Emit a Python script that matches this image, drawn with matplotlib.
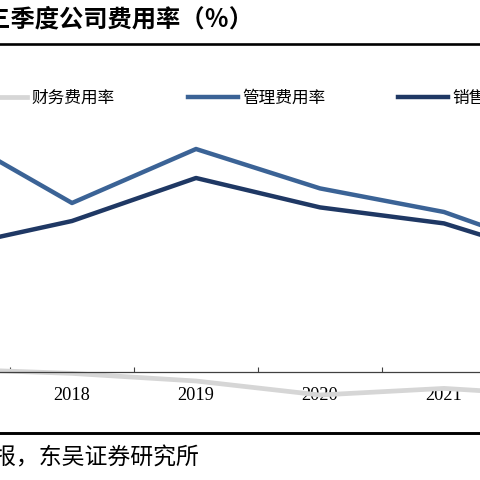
import matplotlib
matplotlib.use('Agg')
import matplotlib.pyplot as plt
from matplotlib.lines import Line2D

plt.rcParams['font.family'] = ['Noto Sans CJK SC', 'DejaVu Sans']

years = ['2017', '2018', '2019', '2020', '2021', '2022']
finance = [0.15, -0.07, -0.45, -1.15, -0.82, -1.2]
admin = [12.0, 8.45, 11.15, 9.18, 8.0, 5.8]
sales = [6.2, 7.55, 9.7, 8.23, 7.43, 5.5]
series_names = ['财务费用率', '管理费用率', '销售费用率']
title = '前三季度公司费用率（％）'
source = '数据来源：公司季报，东吴证券研究所'

W = H = 480
fig = plt.figure(figsize=(4.8, 4.8), dpi=100)


def fx(px):
    return px / W


def fy(py):
    return 1 - py / H


ax = fig.add_axes([fx(-114), fy(412), 744 / W, 300 / H])
x = list(range(len(years)))
ax.plot(x, finance, color='#D6D6D6', lw=3.4, label=series_names[0])
ax.plot(x, admin, color='#3B6396', lw=3.2, label=series_names[1])
ax.plot(x, sales, color='#1F3864', lw=3.2, label=series_names[2])

ax.set_xlim(-0.5, len(years) - 0.5)
ax.set_ylim(-2, 13)
for s in ['left', 'right', 'top']:
    ax.spines[s].set_visible(False)
ax.spines['bottom'].set_position(('data', 0))
ax.spines['bottom'].set_color('#404040')
ax.spines['bottom'].set_linewidth(0.9)
ax.set_yticks([])
ax.set_xticks([i + 0.5 for i in range(len(years) - 1)])
ax.set_xticklabels([])
ax.tick_params(axis='x', which='major', direction='in', length=3.6, width=0.8, color='#404040')
ax.set_xticks(x, minor=True)
ax.set_xticklabels(years, minor=True, fontsize=13.2, family='Liberation Serif')
ax.tick_params(axis='x', which='minor', length=0, pad=11)

fig.legend(loc='center', bbox_to_anchor=(fx(256.5), fy(98)), ncol=3, frameon=False,
           fontsize=12, handlelength=3.0, handletextpad=0.25, columnspacing=4.4)

fig.add_artist(Line2D([0, 1], [fy(44), fy(44)], color='black', lw=1.9, transform=fig.transFigure))
fig.add_artist(Line2D([0, 1], [fy(432.5), fy(432.5)], color='black', lw=2.1, transform=fig.transFigure))

fig.text(fx(-37), fy(20), title, ha='left', va='center', fontsize=17.5, fontweight='bold')
fig.text(fx(199), fy(458), source, ha='right', va='center', fontsize=16.5)

fig.savefig('out.png', dpi=100)
